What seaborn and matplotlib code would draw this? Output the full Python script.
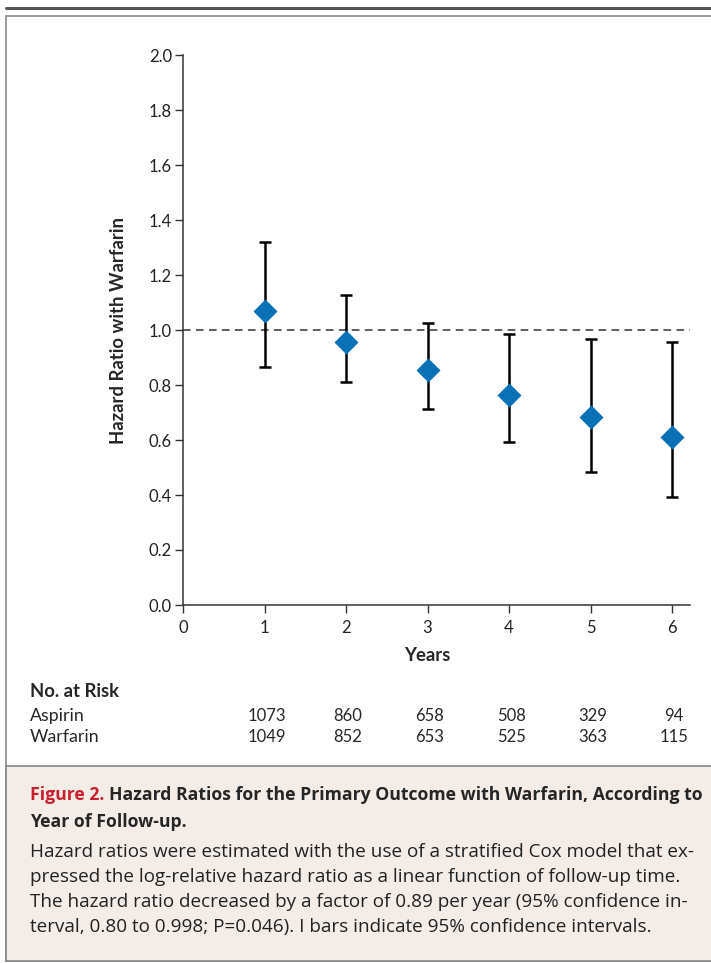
import numpy as np
import matplotlib
matplotlib.use("Agg")
import matplotlib.pyplot as plt
import seaborn as sns
from matplotlib.patches import Rectangle
from matplotlib.lines import Line2D

# data
years = [1, 2, 3, 4, 5, 6]
hazard_ratio = [1.07, 0.955, 0.854, 0.764, 0.684, 0.611]
ci_lower = [0.867, 0.812, 0.712, 0.592, 0.483, 0.392]
ci_upper = [1.319, 1.126, 1.026, 0.985, 0.967, 0.955]
at_risk_aspirin = [1073, 860, 658, 508, 329, 94]
at_risk_warfarin = [1049, 852, 653, 525, 363, 115]
y_ticks = [0.0, 0.2, 0.4, 0.6, 0.8, 1.0, 1.2, 1.4, 1.6, 1.8, 2.0]
x_ticks = [0, 1, 2, 3, 4, 5, 6]

W, H = 711, 963
sns.set_style("ticks")
plt.rcParams['font.family'] = ['Lato', 'DejaVu Sans']
CAP_FONT = ['Open Sans', 'DejaVu Sans']

fig = plt.figure(figsize=(W / 100, H / 100), dpi=100)


def fx(x):
    return x / W


def fy(y):
    return 1 - y / H


# frame and caption background
fig.add_artist(Line2D([fx(6), 1], [fy(8), fy(8)], color='#555555', lw=2.2, zorder=-5))
fig.add_artist(Rectangle((fx(6), fy(961)), 1, fy(16) - fy(961), transform=fig.transFigure,
                         facecolor='white', edgecolor='#8a8a8a', lw=1.2, zorder=-5))
fig.add_artist(Rectangle((fx(6), fy(961)), 1, fy(766) - fy(961), transform=fig.transFigure,
                         facecolor='#f3ece7', edgecolor='#8a8a8a', lw=1.2, zorder=-4))

ax = fig.add_axes([fx(183), fy(605), fx(690) - fx(183), fy(55) - fy(605)])
ax.patch.set_alpha(0)
ax.set_xlim(0, 6.22)
ax.set_ylim(0, 2.0)

ax.axhline(1.0, color='#333333', lw=1.1, ls=(0, (5, 3.5)), zorder=1)

err = [np.array(hazard_ratio) - np.array(ci_lower), np.array(ci_upper) - np.array(hazard_ratio)]
ax.errorbar(years, hazard_ratio, yerr=err, fmt='none', ecolor='black', elinewidth=1.8,
            capsize=4.5, capthick=1.8, zorder=2)
sns.scatterplot(x=years, y=hazard_ratio, marker='D', s=150, color='#0a71b6',
                edgecolor='#0a71b6', linewidth=0, ax=ax, zorder=3)

sns.despine(ax=ax)
for side in ['left', 'bottom']:
    ax.spines[side].set_color('#333333')
    ax.spines[side].set_linewidth(1.1)
ax.set_yticks(y_ticks)
ax.set_yticklabels([f"{v:.1f}" for v in y_ticks])
ax.set_xticks(x_ticks)
ax.tick_params(axis='both', direction='out', length=6, width=1.0, color='#333333',
               labelsize=12, labelcolor='#222222')
ax.tick_params(axis='y', pad=2)
ax.tick_params(axis='x', pad=5)
ax.set_xlabel('Years', fontsize=13.3, fontweight='bold', labelpad=8)
ax.xaxis.label.set_x(3 / 6.22)
ax.set_ylabel('Hazard Ratio with Warfarin', fontsize=13.3, fontweight='bold', labelpad=16)

# number at risk table
fig.text(fx(30), fy(691), 'No. at Risk', fontsize=13.3, fontweight='bold', va='center')
fig.text(fx(30), fy(716), 'Aspirin', fontsize=12.8, va='center')
fig.text(fx(30), fy(737), 'Warfarin', fontsize=12.8, va='center')
for yr, a, w in zip(years, at_risk_aspirin, at_risk_warfarin):
    xp = ax.transData.transform((yr, 0))[0] / (W)
    fig.text(xp + 0.003, fy(716), str(a), fontsize=12, ha='center', va='center')
    fig.text(xp + 0.003, fy(737), str(w), fontsize=12, ha='center', va='center')

# caption
renderer = fig.canvas.get_renderer()
t1 = fig.text(fx(30), fy(795), 'Figure 2.', fontsize=12.7, fontweight='bold', color='#c8202f',
              va='center', family=CAP_FONT)
bb = t1.get_window_extent(renderer)
fig.text(bb.x1 / W + 0.006, fy(795), 'Hazard Ratios for the Primary Outcome with Warfarin, According to',
         fontsize=12.7, fontweight='bold', va='center', family=CAP_FONT)
fig.text(fx(30), fy(822), 'Year of Follow-up.', fontsize=12.7, fontweight='bold', va='center', family=CAP_FONT)
body = [
    'Hazard ratios were estimated with the use of a stratified Cox model that ex-',
    'pressed the log-relative hazard ratio as a linear function of follow-up time.',
    'The hazard ratio decreased by a factor of 0.89 per year (95% confidence in-',
    'terval, 0.80 to 0.998; P=0.046). I bars indicate 95% confidence intervals.',
]
for i, line in enumerate(body):
    fig.text(fx(30), fy(852 + 25 * i), line, fontsize=13.6, va='center', color='#222222',
             family=CAP_FONT)

fig.savefig('out.png', dpi=100)
